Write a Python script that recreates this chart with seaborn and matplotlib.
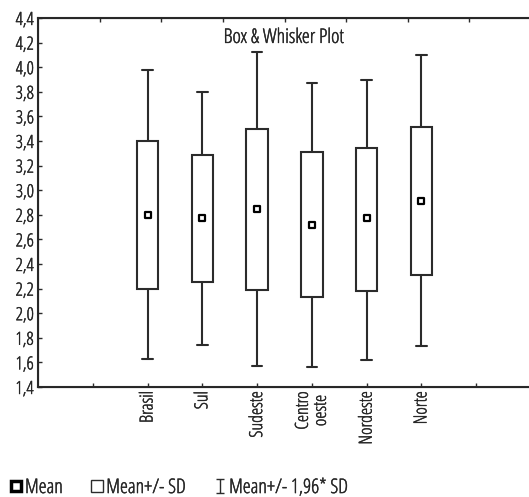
import numpy as np
import pandas as pd
import matplotlib
matplotlib.use("Agg")
import matplotlib.pyplot as plt
import matplotlib.patheffects as pe
from matplotlib.lines import Line2D
from matplotlib.path import Path
import seaborn as sns

# values (Mean, Mean +/- SD, Mean +/- 1.96*SD)
regions = ["Brasil", "Sul", "Sudeste", "Centro\noeste", "Nordeste", "Norte"]
whisker_low = [1.63, 1.74, 1.57, 1.56, 1.62, 1.73]
box_low = [2.20, 2.25, 2.19, 2.13, 2.18, 2.31]
means = [2.80, 2.77, 2.85, 2.72, 2.77, 2.91]
box_high = [3.40, 3.29, 3.50, 3.31, 3.34, 3.51]
whisker_high = [3.98, 3.80, 4.12, 3.87, 3.90, 4.10]

yticks = [1.4, 1.6, 1.8, 2.0, 2.2, 2.4, 2.6, 2.8, 3.0, 3.2, 3.4, 3.6, 3.8, 4.0, 4.2, 4.4]
legend_labels = ["Mean", "Mean+/- SD", "Mean+/- 1,96* SD"]

# five points per region -> quartiles land exactly on the SD box, min/max on the 1.96 SD whiskers
rows = []
for i, r in enumerate(regions):
    for v in (whisker_low[i], box_low[i], means[i], box_high[i], whisker_high[i]):
        rows.append({"region": r, "value": v})
df = pd.DataFrame(rows)

sns.set_style("ticks")
plt.rcParams["font.family"] = ["Open Sans", "DejaVu Sans"]
plt.rcParams["font.stretch"] = "condensed"
plt.rcParams["font.weight"] = 300
ink = "#2b2b2b"
txt = "#262626"
# the light condensed face is thinner than the original's, thicken it a little
bolder = [pe.withStroke(linewidth=0.3, foreground=txt)]

fig = plt.figure(figsize=(5.29, 4.97), dpi=100)
ax = fig.add_axes([38 / 529, 1 - 387 / 497, 493 / 529, 369 / 497])

sns.boxplot(data=df, x="region", y="value", order=regions, whis=(0, 100),
            width=0.39, color="white", linecolor=ink, linewidth=1.5,
            medianprops={"visible": False}, ax=ax)
sns.stripplot(x=regions, y=means, order=regions, jitter=False, marker="s", size=5,
              color="white", edgecolor="black", linewidth=1.6, ax=ax)

ax.set_xlim(-2, 7)
ax.set_ylim(1.4, 4.4)
ax.set_xticks(range(-1, 7))
ax.set_xticklabels([""] + regions + [""], rotation=90, fontsize=13, color=txt,
                   multialignment="center", linespacing=1.0, path_effects=bolder)
ax.set_yticks(yticks)
ax.set_yticklabels([f"{v:.1f}".replace(".", ",") for v in yticks], fontsize=13, color=txt,
                   path_effects=bolder)
ax.tick_params(direction="in", length=3, width=1, color=ink, pad=3)
ax.set_xlabel("")
ax.set_ylabel("")
for s in ["left", "bottom", "top"]:
    ax.spines[s].set_color(ink)
    ax.spines[s].set_linewidth(1.5)
ax.spines["right"].set_visible(False)

top = ax.twiny()
top.set_xlim(0, 8)
top.set_xticks(range(1, 8))
top.set_xticklabels([])
top.tick_params(direction="in", length=3, width=1, color=ink)
top.spines["right"].set_visible(False)

ax.text(0.498, 0.946, "Box & Whisker Plot", transform=ax.transAxes, ha="center",
        va="center", fontsize=14.5, color=txt, path_effects=bolder)

ibeam = Path([(-0.6, 1), (0.6, 1), (0, 1), (0, -1), (-0.6, -1), (0.6, -1)],
             [Path.MOVETO, Path.LINETO, Path.MOVETO, Path.LINETO, Path.MOVETO, Path.LINETO])
handles = [
    Line2D([], [], linestyle="none", marker="s", markersize=7.5, markerfacecolor="white",
           markeredgecolor="black", markeredgewidth=2.5),
    Line2D([], [], linestyle="none", marker="s", markersize=9, markerfacecolor="white",
           markeredgecolor=ink, markeredgewidth=1),
    Line2D([], [], linestyle="none", marker=ibeam, markersize=10, markerfacecolor="none",
           markeredgecolor=ink, markeredgewidth=1),
]
leg = fig.legend(handles, legend_labels, loc="center left", bbox_to_anchor=(-0.008, 0.018),
                 ncol=3, frameon=False, handlelength=0.6, handletextpad=0.15,
                 columnspacing=1.4, fontsize=14.5, labelcolor=txt, borderpad=0.2)
for t in leg.get_texts():
    t.set_path_effects(bolder)

fig.savefig("out.png", dpi=100)
